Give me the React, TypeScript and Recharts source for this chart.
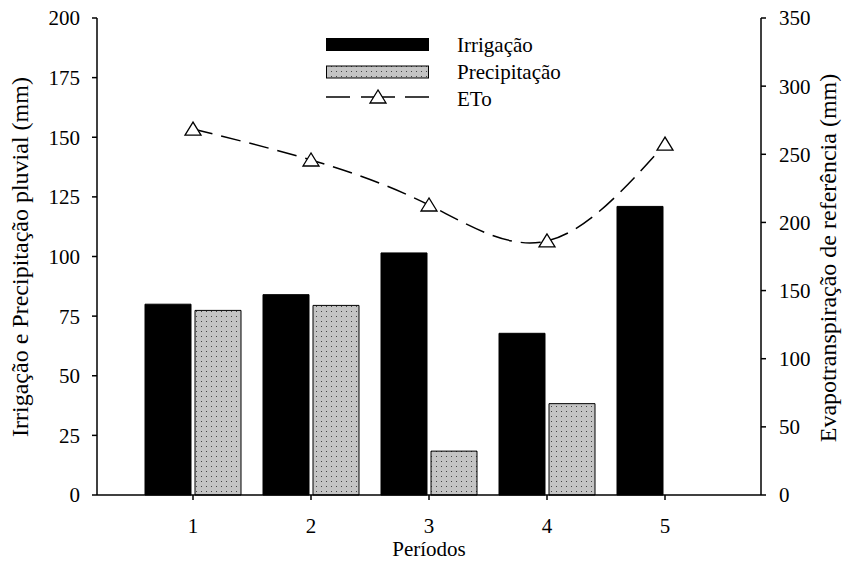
import React from 'react'
import { ComposedChart, Bar, Line, XAxis, YAxis } from 'recharts'

const periodos = ['1', '2', '3', '4', '5']
const irrigacao = [80, 84, 101.5, 67.8, 121]
const precipitacao = [77.4, 79.5, 18.4, 38.3, 0]
const eto = [268.5, 245.8, 212.8, 186.4, 257.5]

const leftTicks = [0, 25, 50, 75, 100, 125, 150, 175, 200]
const rightTicks = [0, 50, 100, 150, 200, 250, 300, 350]

const FONT = 'Liberation Serif, DejaVu Serif, serif'
const FS = 21
const FS_TITLE = 24

const data = periodos.map((p, i) => ({
  periodo: p,
  irrigacao: irrigacao[i],
  precipitacao: precipitacao[i],
  eto: eto[i],
}))

const Triangle = ({ cx, cy }: any) => {
  if (cx == null || cy == null) return null
  return (
    <polygon
      points={`${cx},${cy - 7} ${cx - 8},${cy + 6} ${cx + 8},${cy + 6}`}
      fill="white"
      stroke="black"
      strokeWidth={1.3}
    />
  )
}

const LeftLabel = () => (
  <text
    transform="translate(28, 257) rotate(-90)"
    textAnchor="middle"
    style={{ fontFamily: FONT, fontSize: FS_TITLE }}
    fill="black"
  >
    Irrigação e Precipitação pluvial (mm)
  </text>
)

const RightLabel = () => (
  <text
    transform="translate(836, 258) rotate(-90)"
    textAnchor="middle"
    style={{ fontFamily: FONT, fontSize: FS_TITLE }}
    fill="black"
  >
    Evapotranspiração de referência (mm)
  </text>
)

const BottomLabel = () => (
  <text x={429} y={556} textAnchor="middle" style={{ fontFamily: FONT, fontSize: FS }} fill="black">
    Períodos
  </text>
)

function Legenda() {
  const txt = { fontFamily: FONT, fontSize: FS }
  return (
    <svg
      width={857}
      height={562}
      style={{ position: 'absolute', left: 0, top: 0, pointerEvents: 'none' }}
    >
      <rect x={326} y={38} width={103} height={13} fill="black" />
      <rect x={326.5} y={66} width={102} height={12} fill="url(#pontilhado)" stroke="black" strokeWidth={1} />
      <line x1={326} y1={97} x2={350} y2={97} stroke="black" strokeWidth={1.5} />
      <line x1={361} y1={97} x2={395} y2={97} stroke="black" strokeWidth={1.5} />
      <line x1={405} y1={97} x2={429} y2={97} stroke="black" strokeWidth={1.5} />
      <Triangle cx={378} cy={97} />
      <text x={457} y={52} style={txt} fill="black">Irrigação</text>
      <text x={457} y={79} style={txt} fill="black">Precipitação</text>
      <text x={457} y={106} style={txt} fill="black">ETo</text>
    </svg>
  )
}

export default function App() {
  const tickStyle = { fill: 'black', fontFamily: FONT, fontSize: FS }
  return (
    <div style={{ position: 'absolute', left: 0, top: 0, width: 857, height: 562, background: 'white', fontFamily: FONT }}>
      <svg width={0} height={0} style={{ position: 'absolute' }}>
        <defs>
          <pattern id="pontilhado" width={5} height={5} patternUnits="userSpaceOnUse">
            <rect width={5} height={5} fill="#c4c4c4" />
            <rect x={1} y={1} width={1} height={1} fill="#444" />
          </pattern>
        </defs>
      </svg>
      <ComposedChart
        width={857}
        height={562}
        data={data}
        margin={{ top: 18, right: 0, bottom: 0, left: 0 }}
        barSize={46}
        barGap={4}
      >
        <XAxis
          dataKey="periodo"
          padding={{ left: 37, right: 37 }}
          height={67}
          stroke="black"
          strokeWidth={1.5}
          tickSize={5}
          tickMargin={18}
          tick={tickStyle}
          label={<BottomLabel />}
        />
        <YAxis
          yAxisId="left"
          orientation="left"
          width={97}
          domain={[0, 200]}
          ticks={leftTicks}
          interval={0}
          stroke="black"
          strokeWidth={1.5}
          tickSize={5}
          tickMargin={12}
          tick={tickStyle}
          label={<LeftLabel />}
        />
        <YAxis
          yAxisId="right"
          orientation="right"
          width={96}
          domain={[0, 350]}
          ticks={rightTicks}
          interval={0}
          stroke="black"
          strokeWidth={1.5}
          tickSize={5}
          tickMargin={13}
          tick={tickStyle}
          label={<RightLabel />}
        />
        <Bar yAxisId="left" dataKey="irrigacao" fill="black" stroke="black" isAnimationActive={false} />
        <Bar yAxisId="left" dataKey="precipitacao" fill="url(#pontilhado)" stroke="black" strokeWidth={1} isAnimationActive={false} />
        <Line
          yAxisId="right"
          dataKey="eto"
          type="natural"
          stroke="black"
          strokeWidth={1.5}
          strokeDasharray="20 9"
          dot={<Triangle />}
          activeDot={false}
          isAnimationActive={false}
        />
      </ComposedChart>
      <Legenda />
    </div>
  )
}
